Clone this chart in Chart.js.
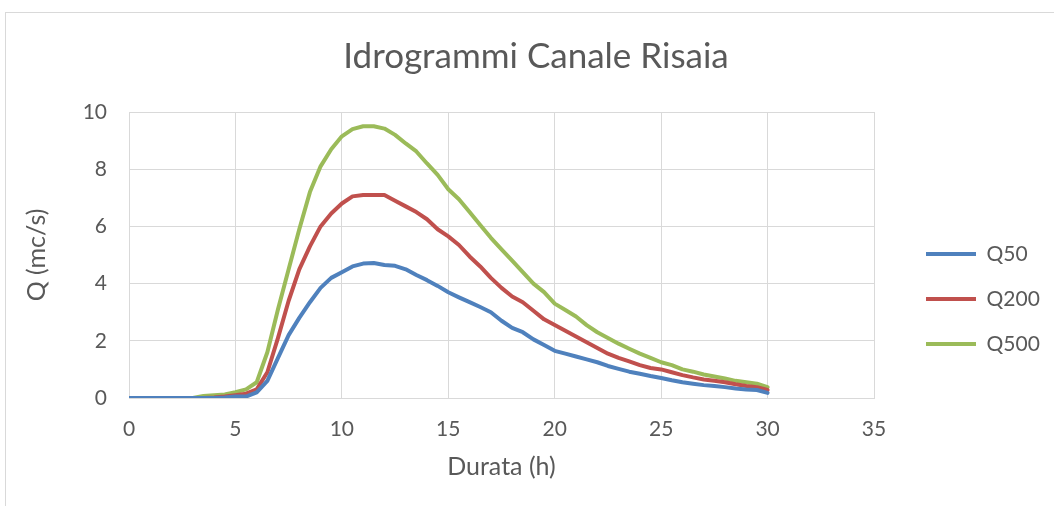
<!DOCTYPE html>
<html>
<head>
<meta charset="utf-8">
<script src="https://cdn.jsdelivr.net/npm/chart.js@4/dist/chart.umd.min.js"></script>
<style>
html,body{margin:0;padding:0;background:#fff;overflow:hidden;}
#wrap{position:relative;width:1054px;height:506px;}
</style>
</head>
<body>
<div id="wrap"><canvas id="c" width="1054" height="506"></canvas></div>
<script>
const chartTitle = "Idrogrammi Canale Risaia";
const xTitle = "Durata (h)";
const yTitle = "Q (mc/s)";
const seriesNames = ["Q50", "Q200", "Q500"];
const seriesColors = ["#4F81BD", "#C0504D", "#9BBB59"];

const hours = [0,0.5,1,1.5,2,2.5,3,3.5,4,4.5,5,5.5,6,6.5,7,7.5,8,8.5,9,9.5,10,10.5,11,11.5,12,12.5,13,13.5,14,14.5,15,15.5,16,16.5,17,17.5,18,18.5,19,19.5,20,20.5,21,21.5,22,22.5,23,23.5,24,24.5,25,25.5,26,26.5,27,27.5,28,28.5,29,29.5,30];

const q50 = [0,0,0,0,0,0,0,0,0,0.02,0.05,0.05,0.2,0.6,1.4,2.2,2.8,3.35,3.85,4.2,4.4,4.6,4.7,4.72,4.65,4.62,4.5,4.3,4.12,3.92,3.7,3.52,3.35,3.18,3.0,2.7,2.45,2.3,2.05,1.85,1.65,1.55,1.45,1.35,1.25,1.12,1.02,0.92,0.85,0.77,0.7,0.62,0.55,0.5,0.45,0.42,0.38,0.33,0.3,0.28,0.18];

const q200 = [0,0,0,0,0,0,0,0,0.02,0.05,0.1,0.15,0.3,0.9,2.1,3.4,4.5,5.3,6.0,6.45,6.8,7.05,7.1,7.1,7.1,6.9,6.7,6.5,6.25,5.9,5.65,5.35,4.95,4.6,4.2,3.85,3.55,3.35,3.05,2.75,2.55,2.35,2.15,1.95,1.75,1.55,1.4,1.28,1.15,1.05,1.0,0.9,0.8,0.72,0.65,0.6,0.55,0.48,0.42,0.38,0.28];

const q500 = [0,0,0,0,0,0,0,0.07,0.1,0.12,0.2,0.3,0.55,1.6,3.1,4.5,5.9,7.2,8.1,8.7,9.15,9.4,9.5,9.5,9.42,9.2,8.9,8.62,8.2,7.8,7.3,6.95,6.5,6.05,5.6,5.2,4.8,4.4,4.0,3.7,3.3,3.08,2.85,2.55,2.3,2.1,1.9,1.72,1.55,1.4,1.25,1.15,1.0,0.92,0.82,0.75,0.68,0.6,0.55,0.5,0.38];

const xTicksMin = 0, xTicksMax = 35, xStep = 5;
const yTicksMin = 0, yTicksMax = 10, yStep = 2;

const FONT = "Lato, 'Open Sans', sans-serif";
const TXT = "#595959";
const GRID = "#d9d9d9";

const seriesValues = [q50, q200, q500];
const datasets = seriesNames.map((name, i) => ({
  label: name,
  data: hours.map((h, j) => ({x: h, y: seriesValues[i][j]})),
  borderColor: seriesColors[i],
  backgroundColor: seriesColors[i],
  borderWidth: 4,
  pointRadius: 0,
  tension: 0,
  fill: false,
  borderJoinStyle: 'round',
  borderCapStyle: 'round'
}));

const layoutPlugin = {
  id: 'layoutTweaks',
  beforeLayout(chart) {
    const lg = chart.legend;
    if (lg && !lg._patched) {
      const orig = lg.fit.bind(lg);
      lg.fit = function() { orig(); this.width = 180; };
      lg._patched = true;
    }
  },
  afterLayout(chart) {
    const lg = chart.legend;
    if (lg) {
      lg.left = 902; lg.right = 902 + 180;
      lg.top = 219.5; lg.bottom = 219.5 + 200;
    }
    const tb = chart.titleBlock;
    if (tb) { tb.left += 9; tb.right += 9; }
  },
  beforeDraw(chart) {
    const ctx = chart.ctx;
    ctx.save();
    ctx.fillStyle = '#ffffff';
    ctx.fillRect(0, 0, chart.width, chart.height);
    ctx.strokeStyle = GRID;
    ctx.lineWidth = 1;
    ctx.strokeRect(5.5, 12.5, 2000, 2000);
    ctx.restore();
  }
};

new Chart(document.getElementById('c'), {
  type: 'line',
  data: { datasets },
  options: {
    responsive: false,
    animation: false,
    layout: { padding: 0 },
    plugins: {
      title: {
        display: true,
        text: chartTitle,
        color: TXT,
        font: { family: FONT, size: 35, weight: 'normal' },
        padding: { top: 36, bottom: 34 }
      },
      legend: {
        position: 'right',
        align: 'start',
        labels: {
          color: TXT,
          font: { family: FONT, size: 21 },
          boxWidth: 50,
          boxHeight: 4,
          padding: 24,
          generateLabels(chart) {
            const items = Chart.defaults.plugins.legend.labels.generateLabels(chart);
            return items.map(it => Object.assign(it, { lineWidth: 0, fillStyle: it.strokeStyle }));
          }
        }
      },
      tooltip: { enabled: false }
    },
    scales: {
      x: {
        type: 'linear',
        min: xTicksMin, max: xTicksMax,
        ticks: { stepSize: xStep, color: TXT, font: { family: FONT, size: 21 }, padding: 19, maxRotation: 0 },
        grid: { color: GRID, lineWidth: 1, drawTicks: false },
        border: { color: GRID },
        title: { display: true, text: xTitle, color: TXT, font: { family: FONT, size: 25 }, padding: { top: 0, bottom: 24 } },
        afterFit(scale) { scale.height = 108; }
      },
      y: {
        type: 'linear',
        min: yTicksMin, max: yTicksMax,
        ticks: { stepSize: yStep, color: TXT, font: { family: FONT, size: 21 }, padding: 22 },
        grid: { color: GRID, lineWidth: 1, drawTicks: false },
        border: { color: GRID },
        title: { display: true, text: yTitle, color: TXT, font: { family: FONT, size: 25 }, padding: { top: 22, bottom: 0 } },
        afterFit(scale) { scale.width = 129; }
      }
    }
  },
  plugins: [layoutPlugin]
});
</script>
</body>
</html>
